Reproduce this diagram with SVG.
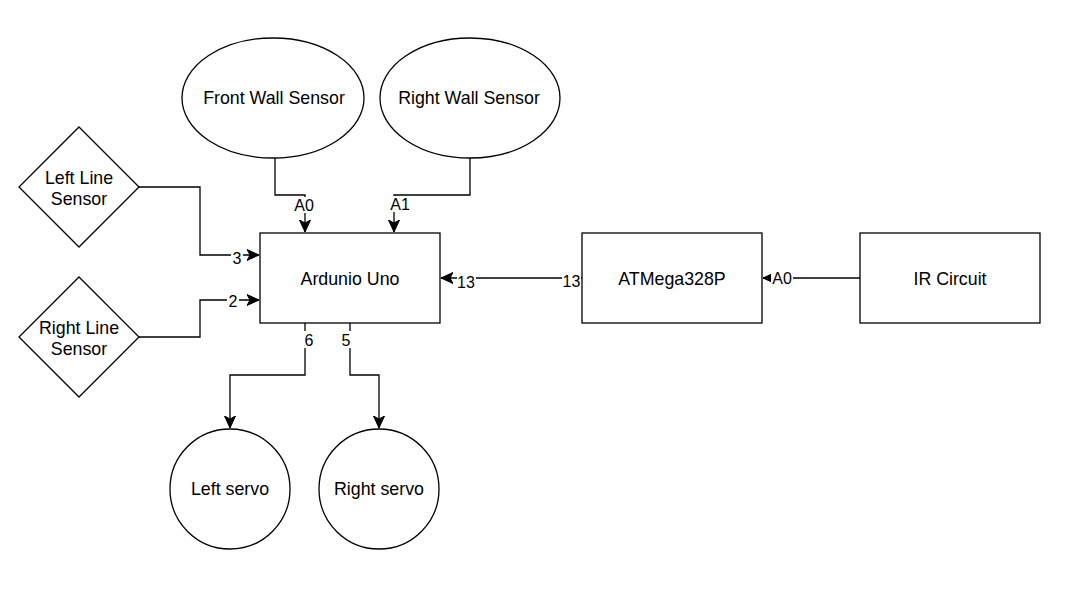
<svg xmlns="http://www.w3.org/2000/svg" width="1078" height="592" viewBox="0 0 1078 592">
<style>
.shape{fill:#fff;stroke:#000;stroke-width:1.3}
.edge{fill:none;stroke:#000;stroke-width:1.3}
.t{font-family:"Liberation Sans",Arial,sans-serif;font-size:17.8px;fill:#000;text-anchor:middle}
.lbl{font-family:"Liberation Sans",Arial,sans-serif;font-size:16px;fill:#000;text-anchor:middle}
.bg{fill:#fff;stroke:none}
</style>
<defs>
<marker id="arr" markerUnits="userSpaceOnUse" viewBox="0 0 12 12" refX="12" refY="6" markerWidth="12" markerHeight="12" orient="auto">
<path d="M0,0.5 L12,6 L0,11.5 L3,6 Z" fill="#000" stroke="#000" stroke-width="1"/>
</marker>
</defs>
<rect width="1078" height="592" fill="#fff"/>
<g id="connectors">
<path class="edge" d="M275,158 V195 H305 V232" marker-end="url(#arr)"/>
<path class="edge" d="M470,158 V195 H394 V232" marker-end="url(#arr)"/>
<path class="edge" d="M139,187 H200 V255 H259" marker-end="url(#arr)"/>
<path class="edge" d="M139,337 H200 V300 H259" marker-end="url(#arr)"/>
<path class="edge" d="M305,323 V375 H230 V428" marker-end="url(#arr)"/>
<path class="edge" d="M350,323 V375 H379 V428" marker-end="url(#arr)"/>
<path class="edge" d="M582,278 H441" marker-end="url(#arr)"/>
<path class="edge" d="M860,278 H763" marker-end="url(#arr)"/>
<g id="edge-labels">
<rect class="bg" x="292" y="197" width="24" height="16"/><text class="lbl" x="304" y="211">A0</text>
<rect class="bg" x="388" y="196" width="24" height="16"/><text class="lbl" x="400" y="210">A1</text>
<rect class="bg" x="231" y="250" width="12" height="16"/><text class="lbl" x="237" y="264">3</text>
<rect class="bg" x="227" y="293" width="12" height="16"/><text class="lbl" x="233" y="307">2</text>
<rect class="bg" x="303" y="331" width="12" height="17"/><text class="lbl" x="309" y="346">6</text>
<rect class="bg" x="340" y="331" width="12" height="17"/><text class="lbl" x="346" y="346">5</text>
<rect class="bg" x="457" y="274" width="19" height="16"/><text class="lbl" x="466" y="288">13</text>
<rect class="bg" x="562" y="273" width="19" height="16"/><text class="lbl" x="571.5" y="287">13</text>
<rect class="bg" x="771" y="270" width="22" height="16"/><text class="lbl" x="782" y="284">A0</text>
</g>
</g>
<g id="front-wall-sensor">
<ellipse class="shape" cx="273" cy="98" rx="91" ry="60"/>
<text class="t" x="274" y="104">Front Wall Sensor</text>
</g>
<g id="right-wall-sensor">
<ellipse class="shape" cx="470" cy="98" rx="90" ry="60"/>
<text class="t" x="469" y="104">Right Wall Sensor</text>
</g>
<g id="left-line-sensor">
<polygon class="shape" points="79,127 139,187 79,247 19,187"/>
<text class="t" x="79" y="184">Left Line</text>
<text class="t" x="79" y="205">Sensor</text>
</g>
<g id="right-line-sensor">
<polygon class="shape" points="79,277 139,337 79,397 19,337"/>
<text class="t" x="79" y="334">Right Line</text>
<text class="t" x="79" y="355">Sensor</text>
</g>
<g id="arduino-uno">
<rect class="shape" x="260" y="233" width="180" height="90"/>
<text class="t" x="350" y="285">Ardunio Uno</text>
</g>
<g id="atmega328p">
<rect class="shape" x="582" y="233" width="180" height="90"/>
<text class="t" x="672" y="285">ATMega328P</text>
</g>
<g id="ir-circuit">
<rect class="shape" x="860" y="233" width="180" height="90"/>
<text class="t" x="950" y="285">IR Circuit</text>
</g>
<g id="left-servo">
<circle class="shape" cx="230" cy="489" r="60"/>
<text class="t" x="230" y="495">Left servo</text>
</g>
<g id="right-servo">
<circle class="shape" cx="379" cy="489" r="60"/>
<text class="t" x="379" y="495">Right servo</text>
</g>
</svg>
